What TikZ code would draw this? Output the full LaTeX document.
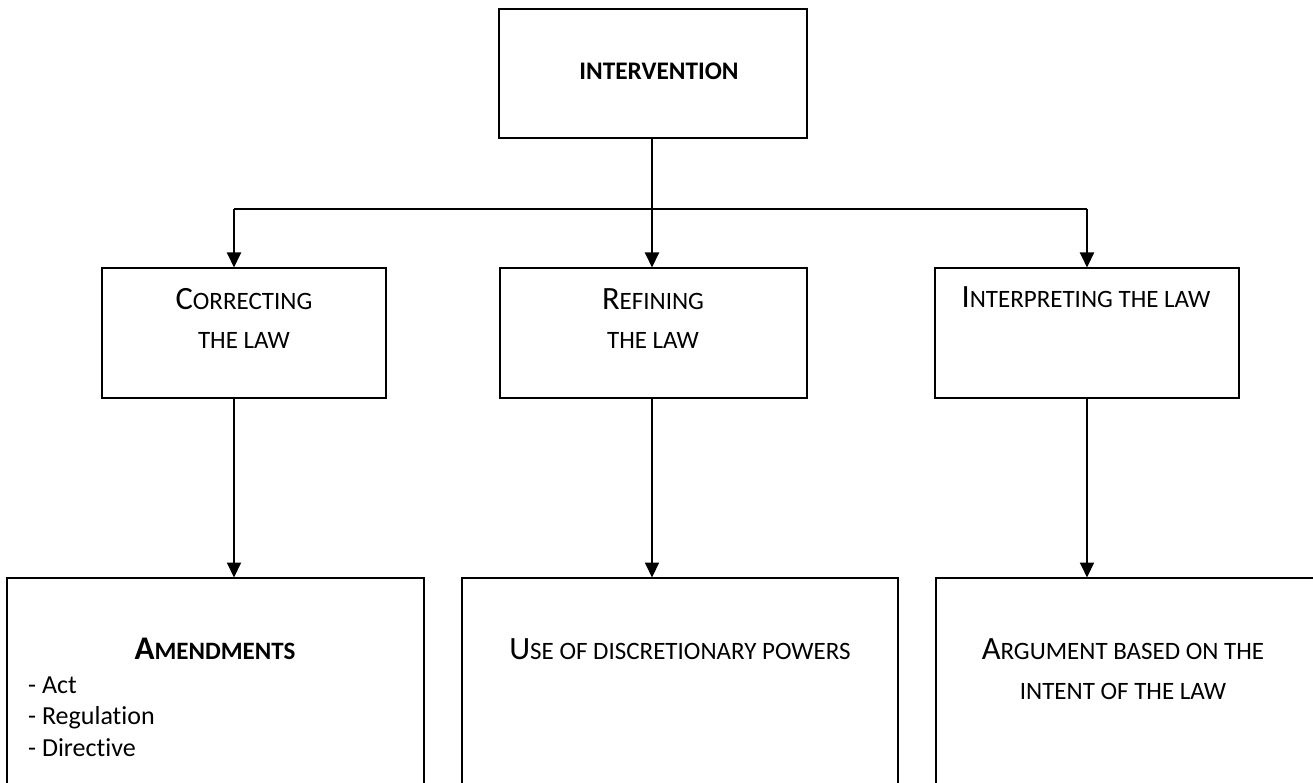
\documentclass[tikz,border=0pt]{standalone}
\usepackage{fontspec}
\setmainfont{Carlito}[Ligatures=NoCommon]
\usetikzlibrary{arrows.meta,calc}
\newcommand{\capL}[1]{{\fontsize{32.5}{38}\selectfont #1}}
\newcommand{\capS}[1]{{\fontsize{25}{30}\selectfont #1}}
\tikzset{
  box/.style={draw=black, line width=2pt, inner sep=0pt, fill=none},
  conn/.style={line width=2pt, draw=black},
  arr/.style={conn, -{Triangle[length=15pt,width=14pt]}, shorten >=-0.5pt},
  lbl/.style={inner sep=0pt, anchor=base, text=black},
  item/.style={inner sep=0pt, anchor=base west, text=black, font=\fontsize{26}{31}\selectfont},
}
\begin{document}
\begin{tikzpicture}[x=1pt,y=-1pt]
\useasboundingbox (0,0) rectangle (1313,783);
\clip (0,0) rectangle (1313,783);
% boxes
\node[box, minimum width=308pt, minimum height=129pt] (top) at (653,73.5) {};
\node[box, minimum width=284pt, minimum height=130pt] (cor) at (244,333) {};
\node[box, minimum width=307pt, minimum height=130pt] (ref) at (653.5,333) {};
\node[box, minimum width=304pt, minimum height=130pt] (int) at (1087,333) {};
\node[box, minimum width=417pt, minimum height=230pt] (amd) at (215.5,693) {};
\node[box, minimum width=436pt, minimum height=230pt] (use) at (680,693) {};
\node[box, minimum width=384pt, minimum height=230pt] (arg) at (1128,693) {};
% texts
\node[lbl, font=\fontsize{25.3}{30}\selectfont\bfseries] (t0) at (659,80) {INTERVENTION};
\node[lbl] (c1) at (244,309) {\capL{C}\capS{ORRECTING}};
\node[lbl] (c2) at (244,348) {\capS{THE LAW}};
\node[lbl] (r1) at (653,309) {\capL{R}\capS{EFINING}};
\node[lbl] (r2) at (653,348) {\capS{THE LAW}};
\node[lbl] (i1) at (1086,308) {\capL{I}\capS{NTERPRETING THE LAW}};
\node[lbl] (a0) at (215,659) {\bfseries{\fontsize{33}{38}\selectfont A}{\fontsize{25}{30}\selectfont MENDMENTS}};
\node[item] (a1) at (28,693) {- Act};
\node[item] (a2) at (28,724.5) {- Regulation};
\node[item] (a3) at (28,756) {- Directive};
\node[lbl] (u1) at (680,659) {\capL{U}\capS{SE OF DISCRETIONARY POWERS}};
\node[lbl] (g1) at (1123,659) {\capL{A}\capS{RGUMENT BASED ON THE}};
\node[lbl] (g2) at (1123,699) {\capS{INTENT OF THE LAW}};
% connectors
\coordinate (jL) at (234,209);
\coordinate (jM) at (652,209);
\coordinate (jR) at (1087,209);
\draw[conn] (jM |- top.south) -- (jM);
\draw[conn] (jL) -- (jR);
\draw[arr] (jL) -- (jL |- cor.north);
\draw[arr] (jM) -- (jM |- ref.north);
\draw[arr] (jR) -- (jR |- int.north);
\draw[arr] (jL |- cor.south) -- (jL |- amd.north);
\draw[arr] (jM |- ref.south) -- (jM |- use.north);
\draw[arr] (jR |- int.south) -- (jR |- arg.north);
\end{tikzpicture}
\end{document}
